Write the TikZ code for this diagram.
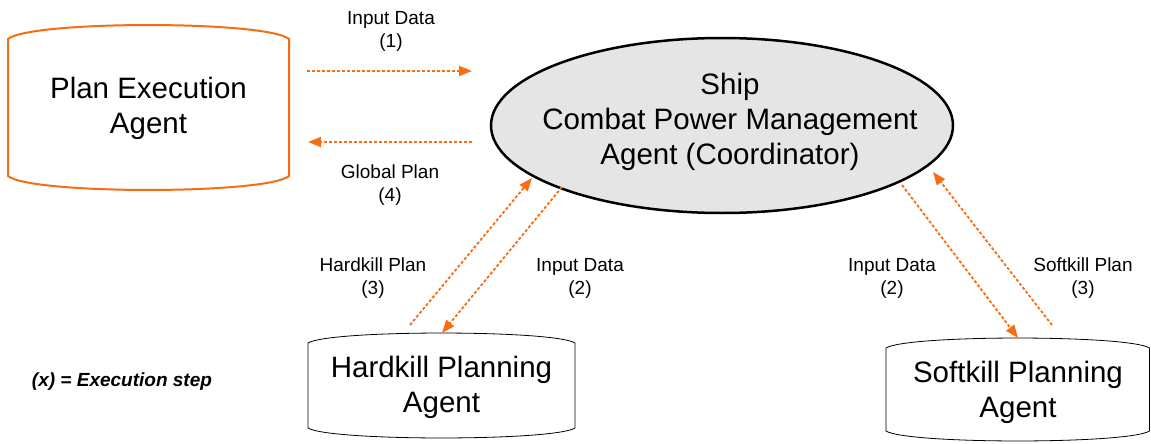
\documentclass[tikz,border=0pt]{standalone}
\usepackage{fontspec}
\setmainfont{Liberation Sans}
\usetikzlibrary{arrows.meta,shapes.geometric}
\definecolor{flow}{RGB}{245,110,20}
\definecolor{coordfill}{RGB}{229,229,229}
\tikzset{
  big/.style={font=\fontsize{29.5}{35}\selectfont, align=center, inner sep=0pt},
  small/.style={font=\fontsize{19}{23}\selectfont, align=center, inner sep=0pt},
  flowarrow/.style={draw=flow, line width=1.8pt, dash pattern=on 3pt off 2pt,
    -{Triangle[length=13pt,width=10pt,fill=flow]}},
}
% cylinder-like outline: x1, x2, top, bottom, depth
\newcommand{\agentbox}[6]{%
  \draw[#6] (#1,#3+#5) -- (#1,#4-#5)
    .. controls (#1+0.08*#2-0.08*#1,#4+0.33*#5) and (#2-0.08*#2+0.08*#1,#4+0.33*#5) .. (#2,#4-#5)
    -- (#2,#3+#5)
    .. controls (#2-0.08*#2+0.08*#1,#3-0.33*#5) and (#1+0.08*#2-0.08*#1,#3-0.33*#5) .. cycle;}
\begin{document}
\begin{tikzpicture}[x=1pt,y=-1pt]
\useasboundingbox[fill=white] (0,0) rectangle (1151,444);

% Plan Execution Agent
\agentbox{8}{289}{25}{190}{14}{draw=flow, line width=2pt, fill=white}
\node[big] (pe) at (148.5,108) {Plan Execution\\Agent};

% Coordinator ellipse
\node[ellipse, draw=black, line width=2.5pt, fill=coordfill, minimum width=462pt, minimum height=175pt, inner sep=0pt] (cpm) at (722,125.5) {};
\node[big] (cpmtext) at (730,121.5) {Ship\\Combat Power Management\\Agent (Coordinator)};

% Hardkill
\agentbox{308}{575}{333}{438}{10}{draw=black, line width=0.8pt, fill=white}
\node[big] (hk) at (441.5,387) {Hardkill Planning\\Agent};

% Softkill
\agentbox{886}{1149.5}{338}{441}{10}{draw=black, line width=0.8pt, fill=white}
\node[big] (sk) at (1018,392.5) {Softkill Planning\\Agent};

% connector endpoints
\coordinate (a1s) at (307,71);  \coordinate (a1e) at (472,71);
\coordinate (a4s) at (472,142); \coordinate (a4e) at (308,142);
\coordinate (h3s) at (410,325); \coordinate (h3e) at (532,178);
\coordinate (h2s) at (562,187); \coordinate (h2e) at (442,333);
\coordinate (s2s) at (902,185); \coordinate (s2e) at (1018,338);
\coordinate (s3s) at (1052,325); \coordinate (s3e) at (933,172);

\draw[flowarrow] (a1s) -- (a1e);
\draw[flowarrow] (a4s) -- (a4e);
\draw[flowarrow] (h3s) -- (h3e);
\draw[flowarrow] (h2s) -- (h2e);
\draw[flowarrow] (s2s) -- (s2e);
\draw[flowarrow] (s3s) -- (s3e);

% labels
\node[small] (l1) at (391,31) {Input Data\\(1)};
\node[small] (l4) at (390,185) {Global Plan\\(4)};
\node[small] (l3h) at (373,278) {Hardkill Plan\\(3)};
\node[small] (l2h) at (580,278) {Input Data\\(2)};
\node[small] (l2s) at (892,278) {Input Data\\(2)};
\node[small] (l3s) at (1083,278) {Softkill Plan\\(3)};

\node[inner sep=0pt, font=\fontsize{19}{22}\selectfont\bfseries\itshape] (legend) at (122,382) {(x) = Execution step};
\end{tikzpicture}
\end{document}
